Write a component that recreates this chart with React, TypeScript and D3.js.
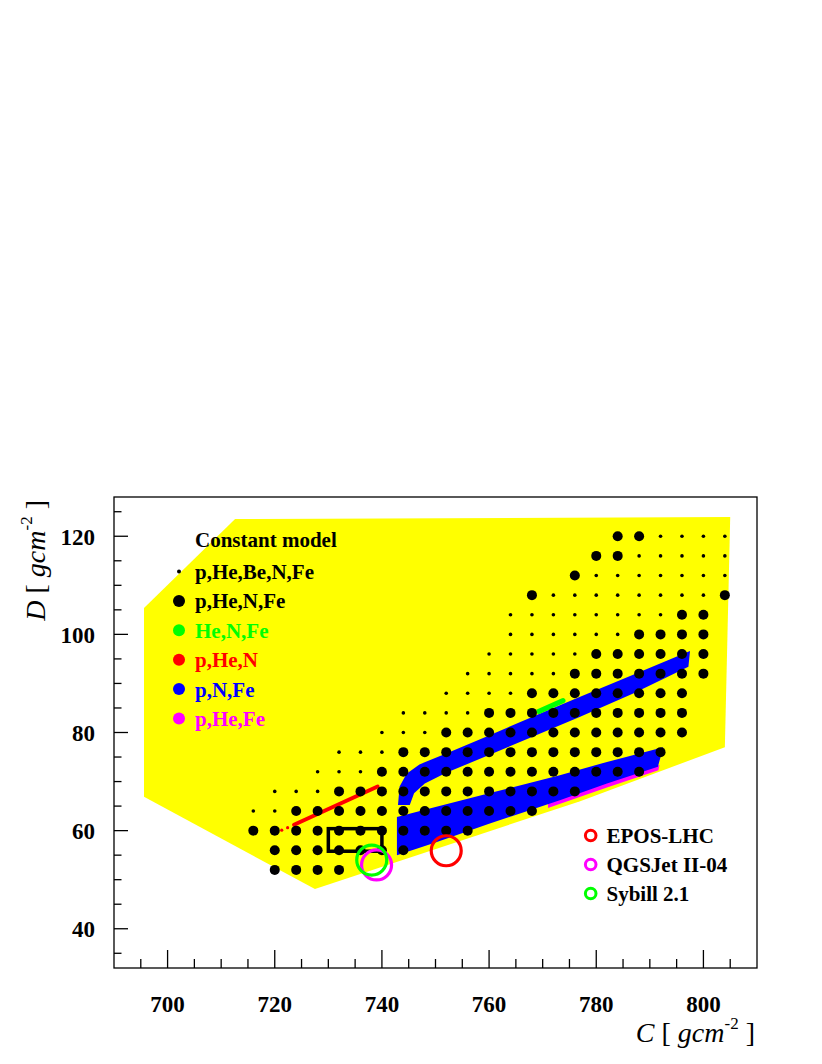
import React from "react";
import * as d3 from "d3";

// ---- axis configuration ----
const xDomain: [number, number] = [690, 810];
const yDomain: [number, number] = [32, 128];
const xMajorTicks = [700, 720, 740, 760, 780, 800];
const yMajorTicks = [40, 60, 80, 100, 120];
const xMinorTicks = [695, 705, 710, 715, 725, 730, 735, 745, 750, 755, 765, 770, 775, 785, 790, 795, 805];
const yMinorTicks = [35, 45, 50, 55, 65, 70, 75, 85, 90, 95, 105, 110, 115, 125];

// ---- allowed region (yellow) ----
const allowedRegion: [number, number][] = [
  [695.6, 105.4], [712.6, 123.5], [805.0, 123.9], [804.0, 77.0],
  [777.0, 66.0], [727.5, 48.1], [695.6, 66.9],
];

// ---- p,He,N,Fe (large) dots, rows of D with C values ----
const largeDotRows: [number, number[]][] = [
  [52, [720, 724, 728, 732]],
  [56, [720, 724, 728, 732, 736, 740, 744]],
  [60, [716, 720, 724, 728, 732, 736, 740, 744, 748, 752, 756]],
  [64, [724, 728, 732, 736, 740, 744, 748, 752, 756, 760, 764, 768]],
  [68, [732, 736, 740, 744, 748, 752, 756, 760, 764, 768, 772, 776]],
  [72, [740, 744, 748, 752, 756, 760, 764, 768, 772, 776, 780, 784, 788]],
  [76, [744, 748, 752, 756, 760, 764, 768, 772, 776, 780, 784, 788, 792]],
  [80, [752, 756, 760, 764, 768, 772, 776, 780, 784, 788, 792, 796]],
  [84, [760, 764, 768, 772, 776, 780, 784, 788, 792, 796]],
  [88, [768, 772, 776, 780, 784, 788, 792, 796]],
  [92, [776, 780, 784, 788, 792, 796, 800]],
  [96, [780, 784, 788, 792, 796, 800]],
  [100, [788, 792, 796, 800]],
  [104, [796, 800]],
  [108, [768, 804]],
  [112, [776]],
  [116, [780, 784]],
  [120, [784, 788]],
];

// ---- p,He,Be,N,Fe (small) dots ----
const smallDotRows: [number, number[]][] = [
  [64, [716, 720]],
  [68, [720, 724, 728]],
  [72, [728, 732, 736]],
  [76, [732, 736, 740]],
  [80, [740, 744, 748]],
  [84, [744, 748, 752, 756]],
  [88, [752, 756, 760, 764]],
  [92, [756, 760, 764, 768, 772]],
  [96, [760, 764, 768, 772, 776]],
  [100, [764, 768, 772, 776, 780, 784]],
  [104, [764, 768, 772, 776, 780, 784, 788, 792]],
  [108, [772, 776, 780, 784, 788, 792, 796, 800]],
  [112, [780, 784, 788, 792, 796, 800, 804]],
  [116, [788, 792, 796, 800, 804]],
  [120, [792, 796, 800, 804]],
];

// ---- p,N,Fe bands (blue) ----
const pNFeUpper: [number, number][] = [
  [743.0, 65.2], [743.3, 69.0], [744.6, 71.6], [747.0, 73.5], [752, 75.7],
  [760, 79.4], [770, 84.1], [777, 87.3], [787, 91.8], [797.5, 96.6],
  [797.2, 93.4], [787, 88.0], [777, 83.2], [770, 80.0], [760, 75.4],
  [752, 71.8], [748, 69.6], [746, 67.6], [745.2, 65.2],
];
const pNFeLower: [number, number][] = [
  [742.8, 62.8], [750, 64.8], [760, 67.6], [773.2, 71.3], [782, 74.0], [792.5, 77.0],
  [791.5, 73.0], [782, 69.6], [773.2, 66.2], [760, 61.4], [750, 57.6], [742.8, 55.0],
];
// ---- p,He,Fe (magenta) ----
const pHeFe: [number, number][] = [
  [771, 65.6], [782, 69.8], [791.8, 73.4], [791.6, 72.3], [782, 68.8], [771, 64.6],
];
// ---- He,N,Fe (green) ----
const HeNFe: [number, number][] = [[769.3, 84.3], [773.8, 86.5]];
// ---- p,He,N (red) ----
const pHeN: [number, number][] = [[723.6, 61.2], [739.2, 69.0]];
const pHeNDots: [number, number][] = [[721.3, 60.1], [722.4, 60.6]];

// ---- reference box ----
const refBox = { c0: 730, c1: 740, d0: 55.8, d1: 60.4 };

// ---- hadronic models ----
const modelNames = ["EPOS-LHC", "QGSJet II-04", "Sybill 2.1"];
const modelColors = ["#ff0000", "#ff00ff", "#00ff00"];
const modelC = [752.0, 739.0, 738.1];
const modelD = [55.9, 53.0, 54.0];

// ---- composition legend ----
const legendTitle = "Constant model";
const legendLabels = ["p,He,Be,N,Fe", "p,He,N,Fe", "He,N,Fe", "p,He,N", "p,N,Fe", "p,He,Fe"];
const legendColors = ["#000000", "#000000", "#00ff00", "#ff0000", "#0000ff", "#ff00ff"];

export default function App() {
  const x = d3.scaleLinear().domain(xDomain).range([114, 757]);
  const y = d3.scaleLinear().domain(yDomain).range([968, 497]);
  const line = d3
    .line<[number, number]>()
    .x((d) => x(d[0]))
    .y((d) => y(d[1]));
  const poly = (pts: [number, number][]) => (line(pts) || "") + "Z";

  const left = 114, right = 757, top = 497, bottom = 968;
  const font = "'Liberation Serif', 'Times New Roman', serif";

  return (
    <svg
      width={822}
      height={1064}
      style={{ position: "absolute", left: 0, top: 0, background: "#fff" }}
      fontFamily={font}
    >
      <rect x={0} y={0} width={822} height={1064} fill="#fff" />
      {/* allowed region */}
      <path d={poly(allowedRegion)} fill="#ffff00" />

      {/* bands */}
      <path d={poly(pHeFe)} fill="#ff00ff" />
      <path d={poly(pNFeUpper)} fill="#0000ff" />
      <path d={poly(pNFeLower)} fill="#0000ff" />
      <path d={line(HeNFe) || ""} stroke="#00ff00" strokeWidth={5} strokeLinecap="round" fill="none" />
      <path d={line(pHeN) || ""} stroke="#ff0000" strokeWidth={4} strokeLinecap="round" fill="none" />
      {pHeNDots.map((p, i) => (
        <circle key={"rd" + i} cx={x(p[0])} cy={y(p[1])} r={1.6} fill="#ff0000" />
      ))}

      {/* dots */}
      {smallDotRows.flatMap(([dv, cs]) =>
        cs.map((cv) => <circle key={`s${dv}-${cv}`} cx={x(cv)} cy={y(dv)} r={1.8} fill="#000" />)
      )}
      {largeDotRows.flatMap(([dv, cs]) =>
        cs.map((cv) => <circle key={`l${dv}-${cv}`} cx={x(cv)} cy={y(dv)} r={5} fill="#000" />)
      )}

      {/* reference box */}
      <rect
        x={x(refBox.c0)}
        y={y(refBox.d1)}
        width={x(refBox.c1) - x(refBox.c0)}
        height={y(refBox.d0) - y(refBox.d1)}
        fill="none"
        stroke="#000"
        strokeWidth={3.5}
      />

      {/* model circles */}
      {modelNames.map((n, i) => (
        <circle key={n} cx={x(modelC[i])} cy={y(modelD[i])} r={15} fill="none" stroke={modelColors[i]} strokeWidth={3.2} />
      ))}

      {/* frame */}
      <rect x={left} y={top} width={right - left} height={bottom - top} fill="none" stroke="#000" strokeWidth={1.3} />

      {/* x ticks */}
      {xMajorTicks.map((t) => (
        <g key={"xt" + t}>
          <line x1={x(t)} x2={x(t)} y1={bottom} y2={bottom - 18} stroke="#000" strokeWidth={1.3} />
          <text x={x(t)} y={1011.5} textAnchor="middle" fontWeight="bold" fontSize={23}>
            {t}
          </text>
        </g>
      ))}
      {xMinorTicks.map((t) => (
        <line key={"xm" + t} x1={x(t)} x2={x(t)} y1={bottom} y2={bottom - 9} stroke="#000" strokeWidth={1.3} />
      ))}
      {/* y ticks */}
      {yMajorTicks.map((t) => (
        <g key={"yt" + t}>
          <line x1={left} x2={left + 14} y1={y(t)} y2={y(t)} stroke="#000" strokeWidth={1.3} />
          <text x={95} y={y(t) + 8.5} textAnchor="end" fontWeight="bold" fontSize={23}>
            {t}
          </text>
        </g>
      ))}
      {yMinorTicks.map((t) => (
        <line key={"ym" + t} x1={left} x2={left + 7.5} y1={y(t)} y2={y(t)} stroke="#000" strokeWidth={1.3} />
      ))}

      {/* axis titles */}
      <text x={755} y={1041.5} textAnchor="end" fontSize={28} style={{ whiteSpace: "pre" }}>
        <tspan fontStyle="italic">C</tspan>
        <tspan>{" [ "}</tspan>
        <tspan fontStyle="italic">gcm</tspan>
        <tspan fontSize={17} dy={-13}>-2</tspan>
        <tspan dy={13}>{" ]"}</tspan>
      </text>
      <text
        transform="translate(45,500) rotate(-90)"
        textAnchor="end"
        fontSize={28}
        style={{ whiteSpace: "pre" }}
      >
        <tspan fontStyle="italic">D</tspan>
        <tspan>{" [ "}</tspan>
        <tspan fontStyle="italic">gcm</tspan>
        <tspan fontSize={17} dy={-13}>-2</tspan>
        <tspan dy={13}>{" ]"}</tspan>
      </text>

      {/* composition legend */}
      <text x={195} y={547} fontWeight="bold" fontSize={21}>
        {legendTitle}
      </text>
      {legendLabels.map((lab, i) => {
        const cy = 571.5 + i * 29.4;
        return (
          <g key={lab}>
            <circle cx={179} cy={cy} r={i === 0 ? 2 : 6} fill={legendColors[i]} />
            <text x={195} y={cy + 7.5} fontWeight="bold" fontSize={21} fill={legendColors[i]}>
              {lab}
            </text>
          </g>
        );
      })}

      {/* model legend */}
      {modelNames.map((n, i) => {
        const cy = 835.5 + i * 29;
        return (
          <g key={"ml" + n}>
            <circle cx={590.7} cy={cy} r={5.3} fill="none" stroke={modelColors[i]} strokeWidth={3} />
            <text x={606.5} y={cy + 7.5} fontWeight="bold" fontSize={21}>
              {n}
            </text>
          </g>
        );
      })}
    </svg>
  );
}
